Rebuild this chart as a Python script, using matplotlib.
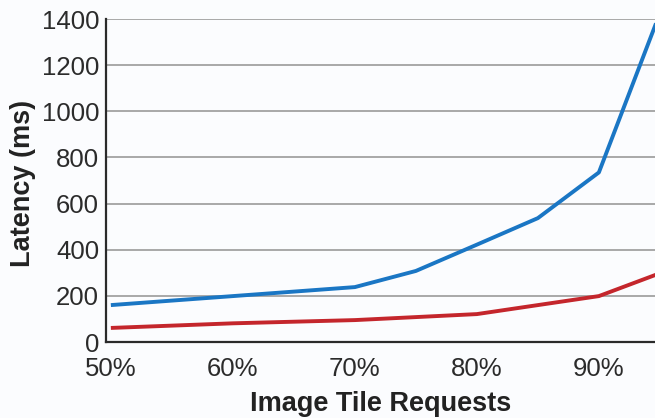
import matplotlib.pyplot as plt

# values
requests = [50, 60, 70, 75, 80, 85, 90, 95]
latency_blue = [160, 199, 238, 308, 422, 537, 735, 1425]
latency_red = [61, 81, 95, 108, 121, 160, 199, 298]

x_ticks = [50, 60, 70, 80, 90]
x_labels = ['50%', '60%', '70%', '80%', '90%']
y_ticks = [0, 200, 400, 600, 800, 1000, 1200, 1400]

plt.rcParams['font.family'] = ['Liberation Sans', 'DejaVu Sans']

bg = '#fbfcfe'
fig = plt.figure(figsize=(6.55, 4.18), dpi=100, facecolor=bg)
ax = fig.add_axes([0.1618, 0.1818, 0.8382, 0.7727], facecolor=bg)

ax.plot(requests, latency_red, color='#c4262c', lw=2.8, solid_capstyle='butt', zorder=3)
ax.plot(requests, latency_blue, color='#1a76c4', lw=2.8, solid_capstyle='butt', zorder=3)

ax.set_xlim(49.6, 94.6)
ax.set_ylim(0, 1400)
ax.set_xticks(x_ticks)
ax.set_xticklabels(x_labels)
ax.set_yticks(y_ticks)

ax.yaxis.grid(True, color='#a8a8a8', lw=1.4)
ax.set_axisbelow(True)
for side in ['top', 'right']:
    ax.spines[side].set_visible(False)
for side in ['left', 'bottom']:
    ax.spines[side].set_color('#2a2a2a')
    ax.spines[side].set_linewidth(1.6)

ax.tick_params(axis='both', length=0, labelsize=18.5, labelcolor='#2b2b2b')
ax.tick_params(axis='y', pad=5)
ax.tick_params(axis='x', pad=11)

ax.set_xlabel('Image Tile Requests', fontsize=19.5, fontweight='bold', color='#222222', va='center')
ax.set_ylabel('Latency (ms)', fontsize=19.5, fontweight='bold', color='#222222', va='center')
ax.xaxis.set_label_coords((381 - 106) / 549, -(404 - 342) / 323)
ax.yaxis.set_label_coords(-(106 - 23) / 549, (342 - 183) / 323)

fig.savefig('out.png', dpi=100, facecolor=bg)
